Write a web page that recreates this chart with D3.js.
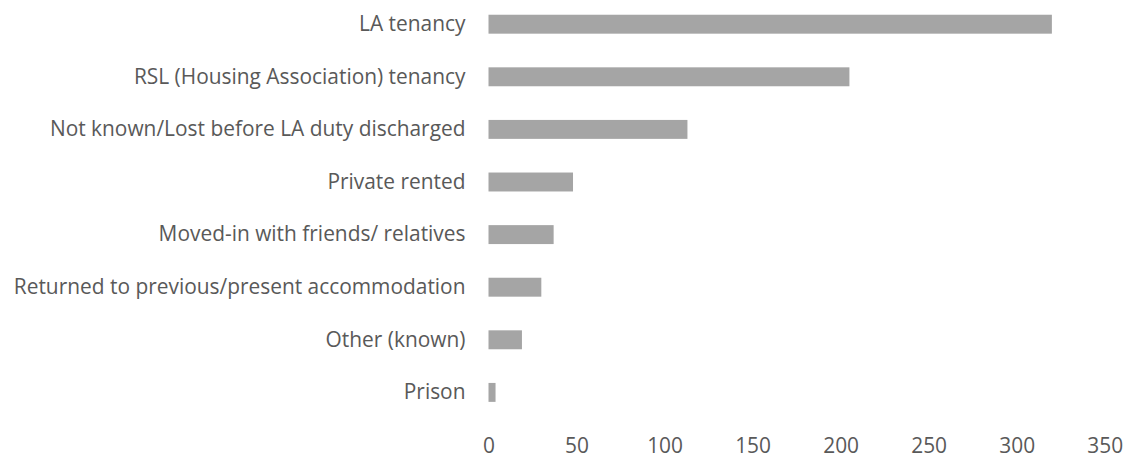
<!DOCTYPE html>
<html>
<head>
<meta charset="utf-8">
<script src="https://cdn.jsdelivr.net/npm/d3@7"></script>
<style>
  html, body { margin: 0; padding: 0; background: #fff; }
  svg text { font-family: "Open Sans", Lato, sans-serif; fill: #595959; }
</style>
</head>
<body>
<svg id="chart" width="1125" height="459"></svg>
<script>
/*Chart data*/
var categories = [
  "LA tenancy",
  "RSL (Housing Association) tenancy",
  "Not known/Lost before LA duty discharged",
  "Private rented",
  "Moved-in with friends/ relatives",
  "Returned to previous/present accommodation",
  "Other (known)",
  "Prison"
];
var counts = [320, 205, 113, 48, 37, 30, 19, 4];
var tickValues = [0, 50, 100, 150, 200, 250, 300, 350];

var svg = d3.select("#chart");

//Scales
var x = d3.scaleLinear()
  .domain([0, 350])
  .range([488.5, 1104.7]);

var y = d3.scaleBand()
  .domain(categories)
  .range([-2.1, 418.7])
  .paddingInner(0.64)
  .paddingOuter(0.32);

//Bars
svg.append("g")
  .attr("class", "bars")
  .selectAll("rect")
  .data(counts)
  .enter().append("rect")
  .attr("x", x(0))
  .attr("y", function(d, i) { return y(categories[i]); })
  .attr("width", function(d) { return x(d) - x(0); })
  .attr("height", y.bandwidth())
  .attr("fill", "#a5a5a5");

//Category axis (no line, no ticks)
var yAxis = svg.append("g")
  .attr("transform", "translate(" + (x(0) - 23) + ",0)")
  .call(d3.axisLeft(y).tickSize(0).tickPadding(0));
yAxis.select(".domain").remove();
yAxis.selectAll("text")
  .attr("font-size", "20.9px")
  .attr("font-family", null)
  .style("fill", "#595959");

//Value axis (labels only, kept inside the bottom edge)
var xAxis = svg.append("g")
  .attr("transform", "translate(0,438)")
  .call(d3.axisBottom(x).tickValues(tickValues).tickSize(0).tickPadding(0));
xAxis.select(".domain").remove();
xAxis.selectAll("text")
  .attr("font-size", "20.9px")
  .attr("font-family", null)
  .attr("dy", "0.71em")
  .style("fill", "#595959");
</script>
</body>
</html>
